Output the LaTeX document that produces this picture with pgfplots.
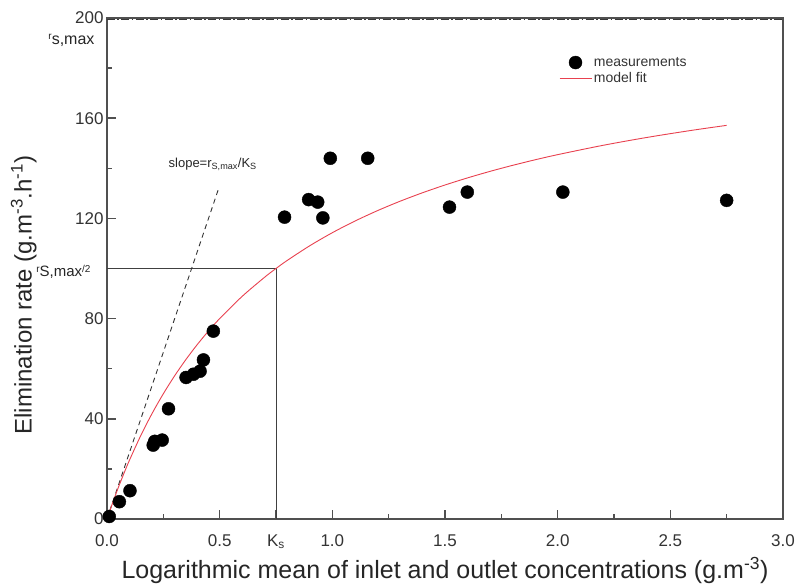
\documentclass[border=0pt]{standalone}
\usepackage{fontspec}
\setmainfont{Liberation Sans}
\usepackage{pgfplots}
\pgfplotsset{compat=1.18}
\definecolor{axgray}{HTML}{505050}
\definecolor{fitred}{HTML}{E8414F}
\pgfplotsset{
  dotlegend/.style={legend image code/.code={\draw[##1] plot coordinates {(16pt,0pt)};}},
  linelegend/.style={legend image code/.code={\draw[##1] (0pt,0pt) -- (32pt,0pt);}},
}
\begin{document}
\begin{tikzpicture}
\begin{axis}[
  scale only axis, width=676pt, height=501pt,
  xmin=0, xmax=3, ymin=0, ymax=200,
  clip=false,
  axis line style={axgray, line width=1.3pt},
  xtick={0,0.5,0.75,1,1.5,2,2.5,3},
  xticklabels={0.0,0.5,K\textsubscript{s},1.0,1.5,2.0,2.5,3.0},
  minor xtick={0.25,1.25,1.75,2.25,2.75},
  ytick={0,40,...,200},
  minor ytick={20,60,100,140,180},
  xtick pos=bottom, ytick pos=left, tick align=inside,
  tick style={axgray, line width=1.5pt},
  major tick length=9pt, minor tick length=5pt,
  tick label style={font=\fontsize{17}{17}\selectfont, text=black!80},
  xticklabel style={yshift=-12pt},
  /pgf/number format/assume math mode=true,
  xlabel={Logarithmic mean of inlet and outlet concentrations (g.m\textsuperscript{-3})},
  ylabel={Elimination rate (g.m\textsuperscript{-3}.h\textsuperscript{-1})},
  xlabel style={font=\fontsize{25}{25}\selectfont, text=black!85, at={(axis description cs:0.5,-0.1195)}, anchor=base},
  ylabel style={font=\fontsize{24}{24}\selectfont, text=black!85, at={(axis description cs:-0.123,0.447)}, anchor=center},
  legend style={draw=none, fill=none, at={(axis description cs:0.664,0.93)}, anchor=north west,
    font=\fontsize{14}{15}\selectfont, text=black!80, row sep=1pt},
  legend cell align=left,
]
% reference lines
\addplot[axgray!70!black, line width=0.9pt, dash pattern=on 8pt off 2.5pt on 1.5pt off 2.5pt, forget plot] coordinates {(0,199.3) (3,199.3)};
\addplot[black!75, line width=0.8pt, forget plot] coordinates {(0,100) (0.75,100) (0.75,0)};
\addplot[black!80, line width=0.9pt, dash pattern=on 5pt off 4pt, forget plot] coordinates {(0,0) (0.493,131.3)};
% measurements
\addplot[only marks, mark=*, mark size=6.5pt, black, dotlegend] coordinates {
(0.01,1) (0.055,6.9) (0.102,11.3) (0.205,29.5) (0.212,31) (0.245,31.5) (0.273,44)
(0.351,56.5) (0.384,57.8) (0.413,59) (0.428,63.5) (0.472,75)
(0.788,120.5) (0.895,127.5) (0.935,126.5) (0.958,120.2) (0.991,144) (1.157,144)
(1.52,124.5) (1.599,130.5) (2.023,130.5) (2.75,127.2)};
\addlegendentry{measurements}
% model fit
\addplot[fitred, line width=0.9pt, smooth, linelegend] coordinates {
(0,0) (0.025,6.45) (0.05,12.5) (0.075,18.18) (0.1,23.53) (0.15,33.33) (0.2,42.11)
(0.25,50) (0.3,57.14) (0.35,63.64) (0.4,69.57) (0.45,75) (0.5,80) (0.6,88.89)
(0.7,96.55) (0.75,100) (0.8,103.23) (0.9,109.09) (1.0,114.29) (1.1,118.92)
(1.2,123.08) (1.3,126.83) (1.4,130.23) (1.5,133.33) (1.6,136.17) (1.7,138.78)
(1.8,141.18) (1.9,143.40) (2.0,145.45) (2.2,149.15) (2.4,152.38) (2.6,155.22) (2.75,157.14)};
\addlegendentry{model fit}
% text annotations
\node[anchor=base west, font=\fontsize{13}{13}\selectfont, text=black!85] at (axis cs:0.258,140.4)
  {slope=r\textsubscript{S,max}/K\textsubscript{S}};
\node[anchor=base east, xshift=-9pt, font=\fontsize{16}{16}\selectfont, text=black!85] at (axis cs:0,189.6)
  {\raisebox{0.5ex}{\fontsize{10}{10}\selectfont r}s,max};
\node[anchor=base east, xshift=-13pt, font=\fontsize{15}{15}\selectfont, text=black!85] at (axis cs:0,96.8)
  {\raisebox{0.5ex}{\fontsize{10}{10}\selectfont r}S,max\raisebox{0.5ex}{\fontsize{10}{10}\selectfont /2}};
\end{axis}
\pgfresetboundingbox
\path (current axis.south west) ++(-107pt,-68pt) rectangle ++(796pt,587pt);
\end{tikzpicture}
\end{document}
